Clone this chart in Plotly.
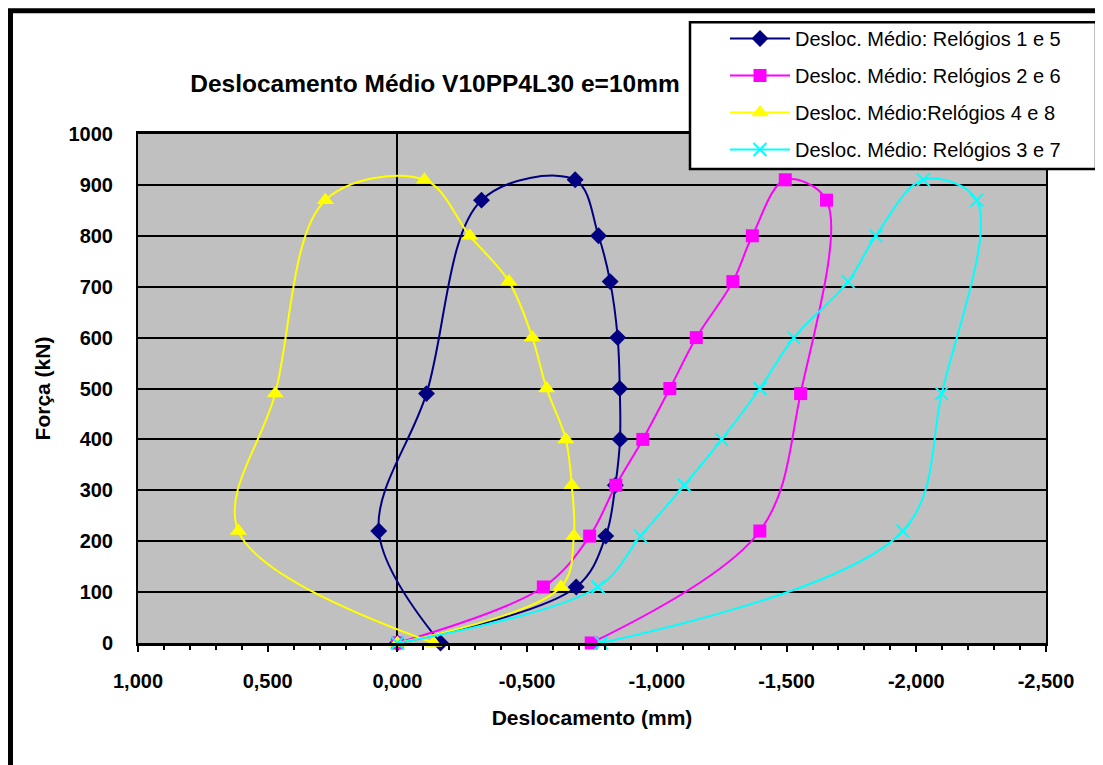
import plotly.graph_objects as go

# ---- data ----
forca = [0, 110, 210, 310, 400, 500, 600, 710, 800, 910, 870, 490, 220, 0]
rel_1_5 = [0, -0.689, -0.803, -0.84, -0.858, -0.857, -0.849, -0.82, -0.775, -0.685, -0.324, -0.112, 0.072, -0.166]
rel_2_6 = [0, -0.5625, -0.741, -0.842, -0.946, -1.05, -1.152, -1.293, -1.368, -1.495, -1.654, -1.554, -1.397, -0.747]
rel_4_8 = [0, -0.63, -0.68, -0.672, -0.649, -0.575, -0.52, -0.43, -0.279, -0.104, 0.278, 0.471, 0.613, -0.14]
rel_3_7 = [0, -0.773, -0.937, -1.106, -1.25, -1.397, -1.528, -1.737, -1.844, -2.027, -2.233, -2.098, -1.948, -0.786]

series_names = [
    "Desloc. Médio: Relógios 1 e 5",
    "Desloc. Médio: Relógios 2 e 6",
    "Desloc. Médio:Relógios 4 e 8",
    "Desloc. Médio: Relógios 3 e 7",
]
x_ticks = [1.0, 0.5, 0.0, -0.5, -1.0, -1.5, -2.0, -2.5]
x_tick_labels = ["1,000", "0,500", "0,000", "-0,500", "-1,000", "-1,500", "-2,000", "-2,500"]
y_ticks = [0, 100, 200, 300, 400, 500, 600, 700, 800, 900, 1000]

title_text = "Deslocamento Médio V10PP4L30 e=10mm"
x_title = "Deslocamento (mm)"
y_title = "Força (kN)"

FONT = "Liberation Sans, Arial, sans-serif"

# ---- geometry: reference screenshot pixels; page body has an 8 px margin ----
OFF = 8
W, H = 1103 - OFF, 765 - OFF
RL, RR, RT, RB = 138, 1046, 133, 643          # plot area in screenshot px
PL, PR, PT, PB = RL - OFF, RR - OFF, RT - OFF, RB - OFF


def px_x(ref_px):
    return (ref_px - RL) / (RR - RL)


def px_y(ref_py):
    return (RB - ref_py) / (RB - RT)


styles = [
    dict(color="#000080", marker=dict(symbol="diamond", size=13, color="#000080")),
    dict(color="#FF00FF", marker=dict(symbol="square", size=13, color="#FF00FF")),
    dict(color="#FFFF00", marker=dict(symbol="triangle-up", size=15, color="#FFFF00")),
    dict(color="#00FFFF", marker=dict(symbol="x-thin", size=13, color="#00FFFF",
                                      line=dict(color="#00FFFF", width=2))),
]
xs = [rel_1_5, rel_2_6, rel_4_8, rel_3_7]

fig = go.Figure()
for i, (name, x, st) in enumerate(zip(series_names, xs, styles)):
    fig.add_trace(go.Scatter(
        x=x, y=forca, name=name, mode="lines+markers",
        line=dict(color=st["color"], width=2, shape="spline", smoothing=1.0),
        marker=st["marker"], legendgroup=f"g{i}", cliponaxis=False,
    ))

fig.update_layout(
    width=W, height=H,
    margin=dict(l=PL, r=W - PR, t=PT, b=H - PB, pad=0),
    paper_bgcolor="white",
    plot_bgcolor="#C0C0C0",
    font=dict(family=FONT, color="black"),
    title=dict(text=title_text, x=px_x(435), xref="paper", xanchor="center",
               y=1 - (83 - OFF) / H, yref="container", yanchor="middle",
               font=dict(family=FONT, size=24.5, color="black", weight="bold")),
    showlegend=True,
    legend=dict(x=px_x(725), y=px_y(19), xanchor="left", yanchor="top",
                bgcolor="rgba(0,0,0,0)", borderwidth=0,
                font=dict(family=FONT, size=20, color="black"),
                tracegroupgap=8, itemwidth=60, traceorder="grouped"),
    xaxis=dict(
        range=[1, -2.5], tickvals=x_ticks, ticktext=x_tick_labels,
        showgrid=False,
        zeroline=True, zerolinecolor="black", zerolinewidth=2,
        showline=True, linecolor="black", linewidth=3, mirror=True,
        ticks="outside", ticklen=6, tickwidth=2, tickcolor="black",
        minor=dict(dtick=0.1, tick0=0, ticks="outside", ticklen=4, tickwidth=2,
                   tickcolor="black", showgrid=False),
        tickfont=dict(family=FONT, size=20, color="black", weight="bold"),
        ticklabelstandoff=12,
        title=dict(text=x_title, standoff=20,
                   font=dict(family=FONT, size=21, color="black", weight="bold")),
    ),
    yaxis=dict(
        range=[0, 1000], tickvals=y_ticks,
        showgrid=True, gridcolor="black", gridwidth=2,
        zeroline=False,
        showline=True, linecolor="black", linewidth=2, mirror=True,
        ticks="",
        tickfont=dict(family=FONT, size=20, color="black", weight="bold"),
        ticklabelstandoff=19,
        title=dict(text=y_title, standoff=12,
                   font=dict(family=FONT, size=21, color="black", weight="bold")),
    ),
    shapes=[
        # outer chart frame (extends past the right/bottom edge as in the reference)
        dict(type="rect", xref="paper", yref="paper", layer="above",
             x0=px_x(10.5), x1=px_x(1125), y0=px_y(790), y1=px_y(9.5),
             line=dict(color="black", width=5), fillcolor="rgba(0,0,0,0)"),
        # legend box
        dict(type="rect", xref="paper", yref="paper", layer="above",
             x0=px_x(690), x1=px_x(1096), y0=px_y(168), y1=px_y(21),
             line=dict(color="black", width=2.5), fillcolor="white"),
    ],
)

fig.write_html("out.html")
